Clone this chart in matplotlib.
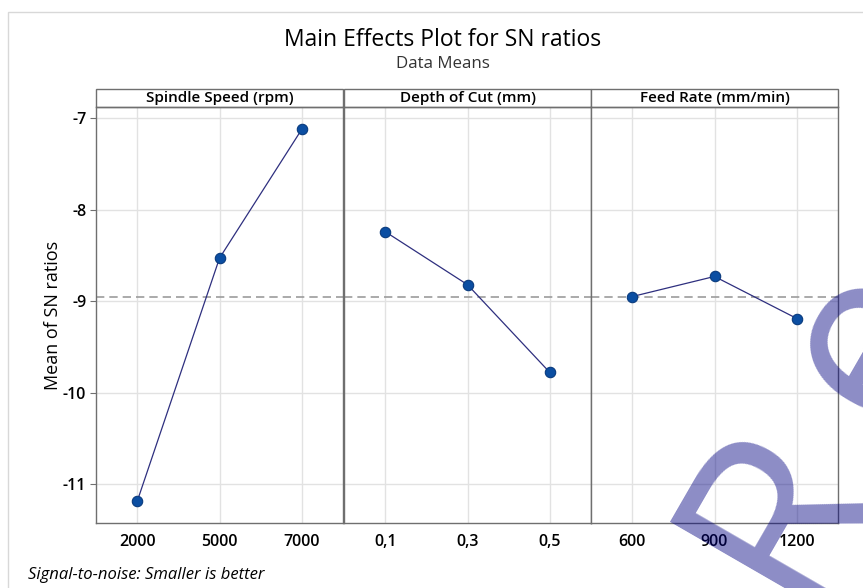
import matplotlib
matplotlib.use('Agg')
import matplotlib.pyplot as plt
from matplotlib.patches import Rectangle

plt.rcParams['font.family'] = ['Open Sans', 'DejaVu Sans']

# ── Data ─────────────────────────────────────────────────────────────────────
factors = ['Spindle Speed (rpm)', 'Depth of Cut (mm)', 'Feed Rate (mm/min)']
spindle_levels = ['2000', '5000', '7000']
spindle_sn = [-11.19, -8.53, -7.12]
depth_levels = ['0,1', '0,3', '0,5']
depth_sn = [-8.24, -8.82, -9.78]
feed_levels = ['600', '900', '1200']
feed_sn = [-8.95, -8.73, -9.19]
grand_mean = -8.95
y_ticks = [-11, -10, -9, -8, -7]

levels = [spindle_levels, depth_levels, feed_levels]
values = [spindle_sn, depth_sn, feed_sn]

FRAME = '#6f6f6f'
GRID = '#e2e2e2'

fig = plt.figure(figsize=(8.63, 5.88), dpi=100)
fig.patch.set_facecolor('white')

# light outer graph frame (partially cropped in the original)
fig.patches.append(Rectangle((8 / 863, -0.05), 1.0, 1 - 12 / 588 + 0.05,
                             transform=fig.transFigure, fill=False,
                             ec='#d8d8d8', lw=1))

lefts = [96 / 863, 344 / 863, 591 / 863]
width = 247 / 863
bottom, height = 1 - 523 / 588, 416 / 588
head_h = 18 / 416

axes = []
for i, (name, lv, vals) in enumerate(zip(factors, levels, values)):
    ax = fig.add_axes([lefts[i], bottom, width, height])
    axes.append(ax)
    ax.set_axisbelow(True)
    ax.grid(True, color=GRID, lw=1)
    ax.axhline(grand_mean, color='#9c9c9c', lw=1.2, ls=(0, (5, 3)), zorder=2)
    ax.plot(lv, vals, color='#2e2f7f', lw=0.9, zorder=3)
    ax.plot(lv, vals, ls='none', marker='o', ms=7.5, mfc='#0b4ea2',
            mec='#0a3b7e', mew=0.8, zorder=4)
    ax.set_xlim(-0.5, 2.5)
    ax.set_ylim(-11.426, -6.877)
    ax.set_yticks(y_ticks)
    for s in ax.spines.values():
        s.set_edgecolor(FRAME)
        s.set_linewidth(1)
    ax.tick_params(axis='x', length=0, pad=8, labelsize=11.5, colors='black')
    if i == 0:
        ax.tick_params(axis='y', length=4, color=FRAME, labelsize=11.5, pad=3)
        ax.set_yticklabels([str(t) for t in y_ticks])
        ax.set_ylabel('Mean of SN ratios', fontsize=13, labelpad=1)
    else:
        ax.tick_params(axis='y', length=0, labelleft=False)
    for lab in ax.get_xticklabels() + ax.get_yticklabels():
        lab.set_fontweight('semibold')

    # factor header strip
    ax.add_patch(Rectangle((0, 1), 1, head_h, transform=ax.transAxes,
                           clip_on=False, fc='white', ec=FRAME, lw=1))
    ax.text(0.5, 1 + head_h / 2, name, transform=ax.transAxes,
            ha='center', va='center', fontsize=11, fontweight='semibold')

fig.text(443 / 863, 1 - 40 / 588, 'Main Effects Plot for SN ratios',
         ha='center', va='center', fontsize=16.5)
fig.text(443 / 863, 1 - 64 / 588, 'Data Means', ha='center', va='center',
         fontsize=12.2, color='#333333')
fig.text(28 / 863, 1 - 575 / 588, 'Signal-to-noise: Smaller is better',
         ha='left', va='center', fontsize=12, style='italic')

# watermark
wm = dict(color='#000080', alpha=0.45, rotation=60, rotation_mode='anchor',
          ha='center', va='center', fontsize=178)
fig.text(782 / 863, 1 - 512 / 588, 'R', **wm)
fig.text(872 / 863, 1 - 342 / 588, 'e', **wm)

fig.savefig('out.png', dpi=100)
